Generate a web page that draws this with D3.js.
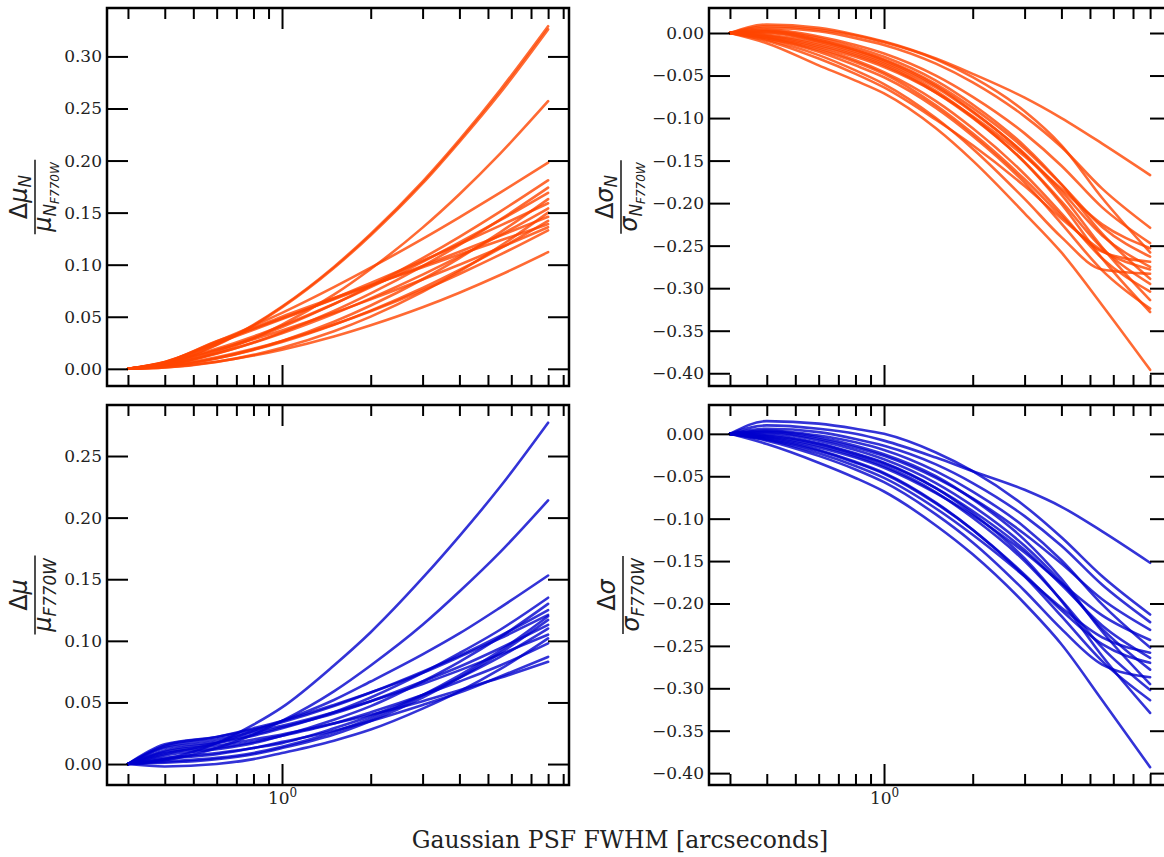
<!DOCTYPE html>
<html><head><meta charset="utf-8">
<script src="https://cdn.jsdelivr.net/npm/d3@7"></script>
<style>body{margin:0;background:#fff} svg{display:block}</style>
</head><body>
<svg id="c" width="1164" height="857"></svg>
<script>
// ---------- data ----------
const fwhm = [0.3, 0.4, 0.6, 0.8, 1.0, 1.5, 2, 3, 4, 5.5, 8];
const xMajorTicks = [1];
const xMinorTicks = [0.3,0.4,0.5,0.6,0.7,0.8,0.9,2,3,4,5,6,7,8,9];

const muNTicks = [0, 0.05, 0.10, 0.15, 0.20, 0.25, 0.30];
const muTicks = [0, 0.05, 0.10, 0.15, 0.20, 0.25];
const sigmaTicks = [0, -0.05, -0.10, -0.15, -0.20, -0.25, -0.30, -0.35, -0.40];

// Δμ_N / μ_N,F770W
const muN = [
 [0, .0052, .0234, .0422, .0598, .0979, .1296, .1798, .2199, .2678, .329],
 [0, .0050, .0228, .0415, .0590, .0968, .1283, .1780, .2180, .2650, .326],
 [0, .0032, .0157, .0292, .0423, .0712, .0959, .1356, .1677, .2067, .257],
 [0, .0065, .0262, .0412, .0537, .0784, .0971, .1248, .1455, .1692, .198],
 [0, .0047, .0176, .0296, .0402, .0621, .0796, .1063, .1268, .1510, .181],
 [0, .0035, .0145, .0252, .0350, .0556, .0724, .0986, .1191, .1433, .174],
 [0, .0056, .0192, .0311, .0415, .0623, .0785, .1028, .1213, .1427, .169],
 [0, .0020, .0099, .0185, .0268, .0452, .0608, .0860, .1064, .1311, .163],
 [0, .0066, .0246, .0374, .0477, .0676, .0824, .1038, .1197, .1375, .159],
 [0, .0040, .0149, .0251, .0342, .0529, .0677, .0904, .1079, .1284, .154],
 [0, .0012, .0067, .0134, .0202, .0360, .0501, .0738, .0935, .1178, .150],
 [0, .0060, .0264, .0387, .0485, .0667, .0799, .0988, .1125, .1278, .146],
 [0, .0023, .0101, .0182, .0258, .0423, .0559, .0776, .0949, .1156, .142],
 [0, .0060, .0250, .0390, .0500, .0681, .0803, .0975, .1097, .1232, .139],
 [0, .0050, .0180, .0283, .0369, .0538, .0667, .0857, .1000, .1162, .136],
 [0, .0027, .0111, .0192, .0267, .0425, .0553, .0754, .0911, .1096, .133],
 [0, .0014, .0068, .0127, .0184, .0310, .0418, .0591, .0731, .0901, .112]
];

// Δσ_N / σ_N,F770W
const sigmaN = [
 [0, .010, .006, -.002, -.010, -.030, -.048, -.076, -.100, -.130, -.167],
 [0, -.012, -.038, -.056, -.071, -.112, -.150, -.212, -.258, -.320, -.396],
 [0, .006, .002, -.006, -.014, -.036, -.058, -.098, -.134, -.183, -.229],
 [0, .004, -.004, -.014, -.024, -.050, -.075, -.118, -.156, -.205, -.247],
 [0, -.004, -.016, -.028, -.040, -.070, -.098, -.145, -.183, -.225, -.253],
 [0, .002, -.008, -.020, -.031, -.060, -.088, -.136, -.178, -.228, -.263],
 [0, -.006, -.020, -.034, -.048, -.085, -.118, -.172, -.215, -.257, -.269],
 [0, .000, -.010, -.022, -.034, -.064, -.093, -.142, -.186, -.238, -.275],
 [0, -.008, -.026, -.044, -.060, -.100, -.136, -.195, -.240, -.278, -.283],
 [0, .003, -.006, -.017, -.028, -.056, -.084, -.133, -.178, -.236, -.289],
 [0, -.003, -.014, -.026, -.038, -.070, -.100, -.152, -.198, -.253, -.295],
 [0, -.005, -.018, -.032, -.046, -.080, -.112, -.166, -.212, -.265, -.304],
 [0, .001, -.009, -.020, -.032, -.062, -.092, -.143, -.190, -.252, -.314],
 [0, -.006, -.022, -.038, -.052, -.088, -.121, -.176, -.224, -.279, -.324],
 [0, -.002, -.012, -.024, -.036, -.068, -.099, -.152, -.201, -.265, -.328],
 [0, -.009, -.030, -.048, -.064, -.102, -.132, -.180, -.218, -.256, -.278],
 [0, .008, .004, -.003, -.011, -.031, -.052, -.092, -.132, -.194, -.258]
];

// Δμ / μ_F770W
const mu = [
 [0, .004, .017, .032, .046, .080, .107, .151, .185, .225, .277],
 [0, .003, .013, .024, .035, .059, .080, .113, .140, .172, .214],
 [0, .008, .017, .027, .035, .052, .067, .089, .106, .127, .153],
 [0, .011, .017, .023, .029, .042, .054, .074, .090, .109, .135],
 [0, .007, .012, .017, .023, .036, .047, .067, .083, .103, .130],
 [0, .015, .022, .029, .035, .048, .058, .074, .087, .102, .121],
 [0, .001, .004, .008, .013, .024, .035, .054, .070, .090, .117],
 [0, .013, .018, .024, .030, .041, .051, .067, .079, .094, .113],
 [0, .004, .008, .013, .017, .029, .039, .056, .070, .087, .110],
 [0, .014, .020, .026, .031, .042, .051, .065, .076, .089, .105],
 [0, -.002, .000, .004, .009, .019, .028, .045, .059, .077, .102],
 [0, .009, .013, .018, .023, .033, .042, .056, .067, .080, .098],
 [0, .005, .009, .013, .018, .027, .035, .048, .058, .071, .087],
 [0, .010, .015, .020, .024, .033, .040, .051, .060, .070, .083],
 [0, .002, .005, .009, .014, .026, .037, .056, .072, .092, .120],
 [0, .016, .022, .028, .034, .047, .058, .075, .088, .104, .125]
];

// Δσ / σ_F770W
const sigma = [
 [0, .015, .012, .006, .000, -.022, -.044, -.085, -.122, -.168, -.213],
 [0, .010, .006, .000, -.008, -.028, -.044, -.066, -.086, -.115, -.152],
 [0, -.012, -.034, -.052, -.068, -.108, -.142, -.200, -.248, -.314, -.393],
 [0, .006, .002, -.006, -.014, -.036, -.058, -.097, -.132, -.178, -.222],
 [0, .002, -.006, -.016, -.026, -.052, -.076, -.118, -.153, -.195, -.231],
 [0, -.004, -.016, -.028, -.040, -.070, -.096, -.140, -.176, -.214, -.243],
 [0, .004, -.002, -.010, -.019, -.044, -.068, -.110, -.149, -.201, -.252],
 [0, -.002, -.012, -.024, -.035, -.064, -.091, -.137, -.178, -.226, -.264],
 [0, -.006, -.020, -.034, -.047, -.082, -.113, -.166, -.208, -.248, -.270],
 [0, .001, -.008, -.019, -.030, -.058, -.085, -.132, -.175, -.230, -.278],
 [0, -.008, -.026, -.042, -.057, -.095, -.128, -.185, -.230, -.272, -.287],
 [0, -.003, -.014, -.026, -.038, -.069, -.099, -.150, -.196, -.252, -.302],
 [0, -.005, -.019, -.033, -.046, -.081, -.113, -.168, -.215, -.268, -.314],
 [0, -.001, -.011, -.023, -.034, -.064, -.094, -.147, -.197, -.262, -.329],
 [0, -.007, -.023, -.038, -.052, -.088, -.119, -.168, -.205, -.240, -.258],
 [0, .003, -.004, -.014, -.024, -.050, -.077, -.125, -.171, -.233, -.295]
];

// ---------- drawing ----------
const svg = d3.select('#c');
const W = 462;
const orange = '#ff4500', blue = '#0000cd';
const textCol = '#222';
const xDomain = [Math.pow(10, -0.594), Math.pow(10, 0.974)];

const panels = [
 {x:107, y:8,   h:378, dom:[-0.0165, 0.3465], ticks:muNTicks,   data:muN,    color:orange, lab:'muN',  xlab:false, lx:35,  ly:197},
 {x:709, y:8,   h:378, dom:[-0.415, 0.0294],  ticks:sigmaTicks, data:sigmaN, color:orange, lab:'sigN', xlab:false, lx:621, ly:197},
 {x:107, y:405, h:380, dom:[-0.017, 0.2914],  ticks:muTicks,    data:mu,     color:blue,   lab:'mu',   xlab:true,  lx:35,  ly:595},
 {x:709, y:405, h:380, dom:[-0.414, 0.034],   ticks:sigmaTicks, data:sigma,  color:blue,   lab:'sig',  xlab:true,  lx:623, ly:595}
];

const labels = {
  muN:  {num:[['Δ','n',0],['μ','i',0],['N','i',1]], den:[['μ','i',0],['N','i',1],['F770W','i',2]]},
  sigN: {num:[['Δ','n',0],['σ','i',0],['N','i',1]], den:[['σ','i',0],['N','i',1],['F770W','i',2]]},
  mu:   {num:[['Δ','n',0],['μ','i',0]],             den:[['μ','i',0],['F770W','i',1]]},
  sig:  {num:[['Δ','n',0],['σ','i',0]],             den:[['σ','i',0],['F770W','i',1]]}
};

function styleAxis(a, labelled) {
  a.select('.domain').remove();
  a.selectAll('.tick line').attr('stroke', '#000').attr('stroke-width', 2);
  a.selectAll('.tick text').attr('fill', textCol).attr('font-family', 'DejaVu Serif').attr('font-size', 17);
  if (!labelled) a.selectAll('.tick text').remove();
}

const FS = 24;
const sizes = [1, 0.7, 0.5];
const shifts = [0, 0.2 * FS, 0.2 * FS + 0.13 * FS];
function mathText(g, parts, yBase) {
  const t = g.append('text').attr('text-anchor', 'middle').attr('y', yBase)
    .attr('font-family', 'DejaVu Sans').attr('font-size', FS).attr('fill', textCol);
  let cur = 0;
  parts.forEach(([s, st, lv]) => {
    t.append('tspan').text(s)
      .attr('font-style', st === 'i' ? 'italic' : 'normal')
      .attr('font-size', FS * sizes[lv])
      .attr('dy', shifts[lv] - cur);
    cur = shifts[lv];
  });
  return t;
}

panels.forEach(p => {
  const g = svg.append('g').attr('transform', `translate(${p.x},${p.y})`);
  const x = d3.scaleLog().domain(xDomain).range([0, W]);
  const y = d3.scaleLinear().domain(p.dom).range([p.h, 0]);
  const line = d3.line().x((d, i) => x(fwhm[i])).y(d => y(d)).curve(d3.curveMonotoneX);

  g.append('g').selectAll('path').data(p.data).join('path')
    .attr('d', line).attr('fill', 'none').attr('stroke', p.color)
    .attr('stroke-width', 2.6).attr('stroke-opacity', 0.8)
    .attr('stroke-linejoin', 'round').attr('stroke-linecap', 'round');

  const yl = g.append('g').call(d3.axisLeft(y).tickValues(p.ticks).tickSize(-21).tickPadding(5).tickFormat(d3.format('.2f')));
  styleAxis(yl, true);
  const yr = g.append('g').attr('transform', `translate(${W},0)`).call(d3.axisRight(y).tickValues(p.ticks).tickSize(-21));
  styleAxis(yr, false);

  const xbM = g.append('g').attr('transform', `translate(0,${p.h})`).call(d3.axisBottom(x).tickValues(xMajorTicks).tickSize(-21).tickPadding(7).tickFormat(() => ''));
  styleAxis(xbM, p.xlab);
  if (p.xlab) {
    xbM.selectAll('.tick text').each(function () {
      const t = d3.select(this);
      t.append('tspan').text('10');
      t.append('tspan').text('0').attr('font-size', 12).attr('dy', '-0.55em');
    });
  }
  const xbm = g.append('g').attr('transform', `translate(0,${p.h})`).call(d3.axisBottom(x).tickValues(xMinorTicks).tickSize(-11));
  styleAxis(xbm, false);
  const xtM = g.append('g').call(d3.axisTop(x).tickValues(xMajorTicks).tickSize(-21));
  styleAxis(xtM, false);
  const xtm = g.append('g').call(d3.axisTop(x).tickValues(xMinorTicks).tickSize(-11));
  styleAxis(xtm, false);

  g.append('rect').attr('width', W).attr('height', p.h)
    .attr('fill', 'none').attr('stroke', '#000').attr('stroke-width', 2.5);

  const L = labels[p.lab];
  const lg = svg.append('g').attr('transform', `translate(${p.lx},${p.ly}) rotate(-90)`);
  const nt = mathText(lg, L.num, -8.5);
  const dt = mathText(lg, L.den, 16);
  const len = Math.max(nt.node().getBBox().width, dt.node().getBBox().width) + 3;
  lg.append('line').attr('x1', -len / 2).attr('x2', len / 2).attr('y1', 0).attr('y2', 0)
    .attr('stroke', textCol).attr('stroke-width', 1.6);
});

svg.append('text').attr('x', 620).attr('y', 848).attr('text-anchor', 'middle')
  .attr('font-family', 'DejaVu Serif').attr('font-size', 23.5).attr('fill', textCol)
  .text('Gaussian PSF FWHM [arcseconds]');
</script>
</body></html>
